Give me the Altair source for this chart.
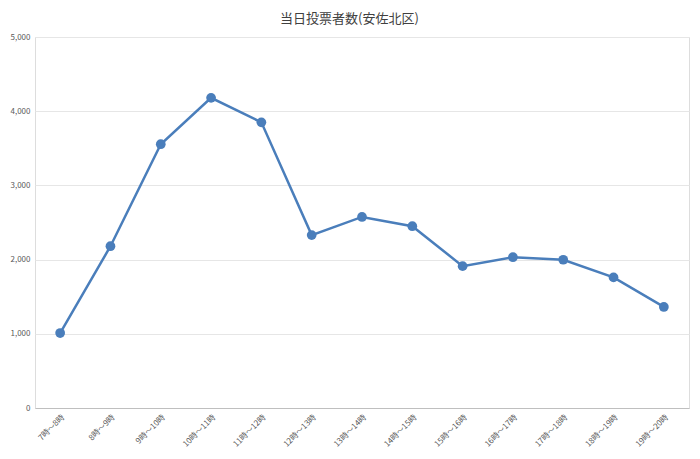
import altair as alt
import pandas as pd

hours = ["7時～8時", "8時～9時", "9時～10時", "10時～11時", "11時～12時", "12時～13時",
         "13時～14時", "14時～15時", "15時～16時", "16時～17時", "17時～18時", "18時～19時", "19時～20時"]
voters = [1010, 2180, 3555, 4180, 3850, 2330, 2575, 2450, 1912, 2032, 1998, 1760, 1362]

df = pd.DataFrame({"hour": hours, "voters": voters})

FONT = "Noto Sans CJK JP"
COLOR = "#4a7ebb"

base = alt.Chart(df).encode(
    x=alt.X("hour:O", sort=hours, scale=alt.Scale(type="point", padding=0.5),
            axis=alt.Axis(title=None, labelAngle=-45, labelFontSize=8, labelColor="#595959",
                          labelFont=FONT, ticks=False, domain=True, domainColor="#bfbfbf",
                          labelPadding=5, grid=False)),
    y=alt.Y("voters:Q", scale=alt.Scale(domain=[0, 5000]),
            axis=alt.Axis(title=None, values=[0, 1000, 2000, 3000, 4000, 5000], format=",.0f",
                          labelFontSize=8, labelColor="#595959", labelFont=FONT,
                          ticks=False, domain=False, labelPadding=5,
                          gridColor="#e6e6e6", gridWidth=1)),
)

line = base.mark_line(color=COLOR, strokeWidth=2.5)
points = base.mark_circle(color=COLOR, size=95, opacity=1)

chart = (line + points).properties(
    width=654,
    height=371,
    padding={"left": 27, "top": 29, "right": 3, "bottom": 43},
    autosize=alt.AutoSizeParams(type="none"),
    title=alt.TitleParams("当日投票者数(安佐北区)", font=FONT, fontSize=13, fontWeight="normal",
                          color="#404040", anchor="middle", frame="bounds", offset=7),
).configure_view(stroke="#d0d0d0", strokeWidth=1).configure(background="white")

chart.save("out.html", embed_options={"renderer": "svg", "actions": False})
